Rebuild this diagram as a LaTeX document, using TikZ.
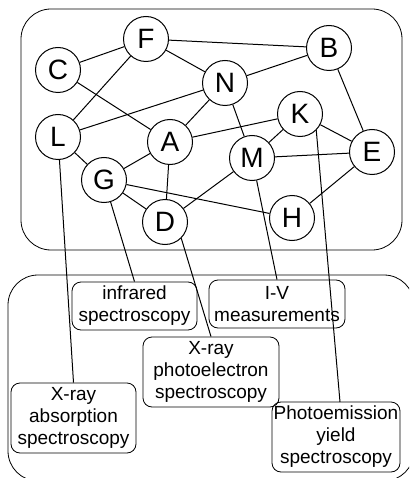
\documentclass[tikz,border=0pt]{standalone}
\usepackage{fontspec}
\setmainfont{Liberation Sans}
\usetikzlibrary{positioning}

\begin{document}
\begin{tikzpicture}[
    x=1pt, y=-1pt,
    every node/.style={font=\fontsize{19}{22}\selectfont},
    vertex/.style={circle, draw, line width=1pt, minimum size=45pt, inner sep=0pt, font=\fontsize{28}{28}\selectfont},
    method/.style={rectangle, draw, rounded corners=9pt, align=center, inner sep=0pt, line width=0.8pt},
    group/.style={draw, rounded corners=30pt, line width=0.8pt},
    link/.style={line width=1pt}
]
\useasboundingbox (0,0) rectangle (409,478);
\begin{scope}
\clip (0,0) rectangle (409,478);
\draw[group] (21,9) rectangle (402,250);
\draw[group] (8,275) rectangle (414,481);
\end{scope}

% Nodes
\node[vertex] (F) at (146,39) {F};
\node[vertex] (C) at (58,70) {C};
\node[vertex] (B) at (329,48) {B};
\node[vertex] (N) at (225,83) {N};
\node[vertex] (K) at (300,114) {K};
\node[vertex] (L) at (58,137) {L};
\node[vertex] (A) at (170,142) {A};
\node[vertex] (M) at (252,158) {M};
\node[vertex] (E) at (372,152) {E};
\node[vertex] (G) at (104,180) {G};
\node[vertex] (D) at (165,222) {D};
\node[vertex] (H) at (292,218) {H};

\node[method, minimum width=125pt, minimum height=48pt] (ir) at (134.5,306) {infrared\\spectroscopy};
\node[method, minimum width=136pt, minimum height=48pt] (iv) at (277,304) {I-V\\measurements};
\node[method, minimum width=136pt, minimum height=70pt] (xps) at (211,372) {X-ray\\photoelectron\\spectroscopy};
\node[method, minimum width=125pt, minimum height=70pt] (xas) at (73.5,418) {X-ray\\absorption\\spectroscopy};
\node[method, minimum width=128pt, minimum height=70pt] (pys) at (336,437) {Photoemission\\yield\\spectroscopy};
\coordinate (pystop) at (340,402);

% Edges
\draw[link] (C) -- (F);
\draw[link] (F) -- (B);
\draw[link] (F) -- (N);
\draw[link] (F) -- (L);
\draw[link] (C) -- (A);
\draw[link] (N) -- (B);
\draw[link] (N) -- (L);
\draw[link] (N) -- (A);
\draw[link] (N) -- (M);
\draw[link] (K) -- (A);
\draw[link] (K) -- (M);
\draw[link] (K) -- (E);
\draw[link] (B) -- (E);
\draw[link] (L) -- (G);
\draw[link] (G) -- (A);
\draw[link] (A) -- (D);
\draw[link] (M) -- (E);
\draw[link] (M) -- (D);
\draw[link] (G) -- (D);
\draw[link] (G) -- (H);
\draw[link] (E) -- (H);

% Methods
\draw[link] (L) -- (xas.north);
\draw[link] (G) -- (ir.north);
\draw[link] (D.-45) -- (xps.north);
\draw[link] (M) -- (iv.north);
\draw[link] (K.-45) -- (pystop);

\end{tikzpicture}
\end{document}
